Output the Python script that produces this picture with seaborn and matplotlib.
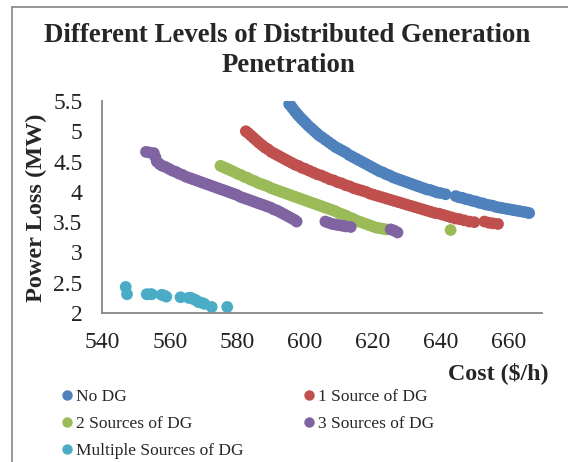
import numpy as np
import pandas as pd
import matplotlib
matplotlib.use("Agg")
import matplotlib.pyplot as plt
import seaborn as sns


# -----------------------------
# Data
# -----------------------------
no_dg_cost = [595.3, 595.8, 596.3, 597, 597.6, 598.2, 598.9, 599.6, 600.3, 601,
              601.8, 602.6, 603.4, 604.2, 605, 606, 607, 608, 609, 610, 611,
              612, 613, 614, 615, 616, 617, 618, 619, 620, 621, 622, 623, 624,
              625, 626, 627, 628, 629, 630, 631, 632, 633, 634, 635, 636, 637,
              638, 639, 640, 641.5, 644.5, 645.5, 646.5, 647.5, 648.5, 649.5,
              650.5, 651.5, 652.5, 653.5, 654.5, 655.5, 656.5, 657.5, 658.5,
              659.5, 660.5, 661.5, 662.5, 663.5, 664.5, 665.5, 666.2]
no_dg_loss = [5.45, 5.42, 5.38, 5.33, 5.29, 5.25, 5.21, 5.17, 5.13, 5.09, 5.05,
              5.01, 4.97, 4.93, 4.90, 4.86, 4.82, 4.78, 4.74, 4.71, 4.68, 4.65,
              4.61, 4.58, 4.55, 4.52, 4.49, 4.46, 4.43, 4.40, 4.37, 4.34, 4.32,
              4.29, 4.27, 4.24, 4.22, 4.20, 4.18, 4.16, 4.14, 4.12, 4.10, 4.08,
              4.06, 4.04, 4.03, 4.01, 3.99, 3.98, 3.96, 3.93, 3.91, 3.90, 3.88,
              3.87, 3.85, 3.84, 3.82, 3.81, 3.79, 3.78, 3.77, 3.75, 3.74, 3.73,
              3.72, 3.71, 3.70, 3.69, 3.68, 3.67, 3.66, 3.65]

one_dg_cost = [582.5, 583.2, 584, 584.8, 585.6, 586.4, 587.3, 588.2, 589.1, 590,
               591, 592, 593, 594, 595, 596, 597, 598, 599, 600, 601.2, 602.4,
               603.6, 604.8, 606, 607.2, 608.4, 609.6, 610.8, 612, 613.2, 614.4,
               615.6, 616.8, 618, 619.2, 620.4, 621.6, 622.8, 624, 625.2, 626.4,
               627.6, 628.8, 630, 631.2, 632.4, 633.6, 634.8, 636, 637.2, 638.4,
               639.6, 640.8, 642, 643.2, 644.4, 645.6, 647, 648.5, 650, 653,
               654.3, 655.5, 657]
one_dg_loss = [5.00, 4.97, 4.93, 4.89, 4.85, 4.81, 4.77, 4.73, 4.70, 4.66, 4.63,
               4.60, 4.57, 4.54, 4.51, 4.48, 4.45, 4.43, 4.40, 4.38, 4.35, 4.32,
               4.29, 4.27, 4.24, 4.21, 4.19, 4.16, 4.14, 4.11, 4.09, 4.06, 4.04,
               4.02, 4.00, 3.97, 3.95, 3.93, 3.91, 3.89, 3.87, 3.85, 3.83, 3.81,
               3.79, 3.77, 3.75, 3.73, 3.71, 3.69, 3.67, 3.65, 3.64, 3.62, 3.60,
               3.58, 3.56, 3.55, 3.53, 3.51, 3.50, 3.51, 3.49, 3.48, 3.47]

two_dg_cost = [575, 575.8, 576.6, 577.4, 578.2, 579, 580, 581, 582, 583, 584,
               585, 586, 587, 588, 589, 590, 591, 592, 593, 594, 595, 596, 597,
               598, 599, 600, 601, 602, 603, 604, 605, 606, 607, 608, 609, 610,
               611, 612, 613, 614, 615, 616, 617, 618, 619, 620, 621, 622, 623,
               624, 643]
two_dg_loss = [4.43, 4.41, 4.39, 4.37, 4.35, 4.33, 4.30, 4.28, 4.25, 4.23, 4.20,
               4.18, 4.15, 4.13, 4.11, 4.09, 4.06, 4.04, 4.02, 4.00, 3.98, 3.96,
               3.94, 3.92, 3.90, 3.88, 3.86, 3.84, 3.82, 3.80, 3.78, 3.76, 3.74,
               3.72, 3.70, 3.68, 3.65, 3.63, 3.61, 3.58, 3.56, 3.53, 3.51, 3.49,
               3.47, 3.45, 3.43, 3.41, 3.40, 3.39, 3.38, 3.37]

three_dg_cost = [553, 554, 555.3, 555.8, 556.2, 557, 557.8, 558.8, 559.8, 560.8,
                 561.8, 562.8, 563.8, 564.8, 565.8, 566.8, 567.8, 568.8, 569.8,
                 570.8, 571.8, 572.8, 573.8, 574.8, 575.8, 576.8, 577.8, 578.8,
                 579.8, 580.8, 581.8, 582.8, 583.8, 584.8, 585.8, 586.8, 587.8,
                 588.8, 589.8, 590.8, 591.8, 592.8, 593.8, 594.8, 595.8, 596.8,
                 597.5, 606, 607, 608, 609, 610, 611, 612, 613.5, 625.3, 626.3,
                 627.3]
three_dg_loss = [4.66, 4.65, 4.64, 4.57, 4.50, 4.46, 4.43, 4.41, 4.38, 4.35,
                 4.33, 4.30, 4.28, 4.25, 4.23, 4.21, 4.19, 4.17, 4.15, 4.13,
                 4.11, 4.09, 4.07, 4.05, 4.03, 4.01, 3.99, 3.97, 3.95, 3.92,
                 3.90, 3.88, 3.86, 3.84, 3.82, 3.80, 3.78, 3.76, 3.74, 3.71,
                 3.69, 3.66, 3.63, 3.60, 3.57, 3.54, 3.51, 3.51, 3.49, 3.47,
                 3.46, 3.45, 3.44, 3.43, 3.42, 3.38, 3.36, 3.33]

multi_dg_cost = [547, 547.4, 553.2, 554.2, 554.7, 557.6, 558.3, 559, 563.2,
                 565.6, 566.3, 567, 567.8, 568.5, 569.4, 570.3, 572.4, 577]
multi_dg_loss = [2.43, 2.31, 2.31, 2.31, 2.31, 2.30, 2.29, 2.27, 2.26, 2.25,
                 2.25, 2.23, 2.21, 2.18, 2.17, 2.15, 2.10, 2.10]

series_names = ["No DG", "1 Source of DG", "2 Sources of DG",
                "3 Sources of DG", "Multiple Sources of DG"]
series_colors = ["#4F81BD", "#C0504D", "#9BBB59", "#8064A2", "#4BACC6"]

x_ticks = [540, 560, 580, 600, 620, 640, 660]
y_ticks = [2, 2.5, 3, 3.5, 4, 4.5, 5, 5.5]
y_tick_labels = ["2", "2.5", "3", "3.5", "4", "4.5", "5", "5.5"]


# -----------------------------
# Build table
# -----------------------------
def build_frame():

    parts = [
        (no_dg_cost, no_dg_loss),
        (one_dg_cost, one_dg_loss),
        (two_dg_cost, two_dg_loss),
        (three_dg_cost, three_dg_loss),
        (multi_dg_cost, multi_dg_loss),
    ]

    frames = []
    for name, (cost, loss) in zip(series_names, parts):
        frames.append(pd.DataFrame({"cost": cost, "loss": loss, "series": name}))

    return pd.concat(frames, ignore_index=True)


# -----------------------------
# Plot
# -----------------------------
def main():

    df = build_frame()

    sns.set_style("white")
    plt.rcParams["font.family"] = ["Liberation Serif", "DejaVu Serif"]

    fig = plt.figure(figsize=(5.68, 4.62), dpi=100)
    ax = fig.add_axes([102 / 568, 1 - 313 / 462, 440 / 568, 212 / 462])

    sns.scatterplot(
        data=df,
        x="cost",
        y="loss",
        hue="series",
        hue_order=series_names,
        palette=series_colors,
        s=72,
        linewidth=0,
        ax=ax,
        legend=False
    )

    ax.set_xlim(540, 670)
    ax.set_ylim(2, 5.5)
    ax.set_xticks(x_ticks)
    ax.set_yticks(y_ticks)
    ax.set_yticklabels(y_tick_labels)

    grey = "#868686"
    for side in ["top", "right"]:
        ax.spines[side].set_visible(False)
    for side in ["left", "bottom"]:
        ax.spines[side].set_color(grey)
        ax.spines[side].set_linewidth(1.3)

    ax.tick_params(axis="both", direction="out", length=5, width=1.3,
                   color=grey, labelsize=17, labelcolor="#222222")
    ax.tick_params(axis="x", pad=9)
    ax.tick_params(axis="y", pad=9)

    ax.set_xlabel("")
    ax.set_ylabel("")

    fig.text(548 / 568, 1 - 373 / 462, "Cost ($/h)", ha="right", va="center",
             fontsize=17.3, fontweight="bold")
    fig.text(36 / 568, 1 - 208 / 462, "Power Loss (MW)", ha="center",
             va="center", rotation=90, fontsize=17.5, fontweight="bold")

    fig.text(287 / 568, 1 - 35 / 462,
             "Different Levels of Distributed Generation",
             ha="center", va="center", fontsize=19.3, fontweight="bold")
    fig.text(288 / 568, 1 - 65 / 462, "Penetration",
             ha="center", va="center", fontsize=19.3, fontweight="bold")

    # legend (column-major order so rows read like the original)
    order = [0, 2, 4, 1, 3]
    handles = [
        plt.Line2D([], [], marker="o", linestyle="", markersize=7.5,
                   markerfacecolor=series_colors[i], markeredgewidth=0)
        for i in order
    ]
    labels = [series_names[i] for i in order]
    fig.legend(
        handles,
        labels,
        loc="upper left",
        bbox_to_anchor=(62 / 568, 1 - 389 / 462),
        ncol=2,
        frameon=False,
        fontsize=12.5,
        handlelength=0.6,
        handletextpad=0.2,
        columnspacing=3.5,
        labelspacing=0.62,
        borderpad=0,
        borderaxespad=0
    )

    # chart border (cropped on right and bottom)
    fig.add_artist(plt.Line2D([12 / 568, 12 / 568], [0, 1 - 7 / 462],
                              transform=fig.transFigure, color=grey, lw=1.2))
    fig.add_artist(plt.Line2D([12 / 568, 1], [1 - 7 / 462, 1 - 7 / 462],
                              transform=fig.transFigure, color=grey, lw=1.2))

    fig.savefig("out.png", dpi=100)


if __name__ == "__main__":
    main()
